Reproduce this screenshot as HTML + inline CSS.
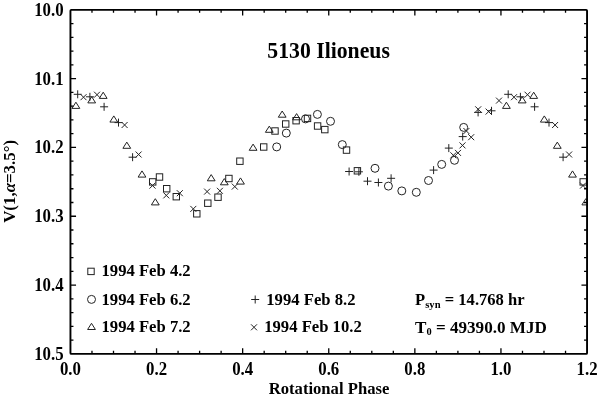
<!DOCTYPE html>
<html><head><meta charset="utf-8"><style>
html,body{margin:0;padding:0;background:#fff;}
svg{display:block;will-change:transform;}
text{font-family:"Liberation Serif",serif;font-weight:bold;fill:#000;}
</style></head><body>
<svg width="600" height="399" viewBox="0 0 600 399">
<defs><clipPath id="c"><rect x="70.45" y="9.85" width="516.6" height="344"/></clipPath></defs>
<g clip-path="url(#c)" fill="none" stroke="#222" stroke-width="1">
<path d="M75.9 102.2L79.8 108.4L72 108.4Z"/><path d="M91.7 96.7L95.6 102.9L87.8 102.9Z"/><path d="M103.2 92.2L107.1 98.4L99.3 98.4Z"/><path d="M113.8 115.9L117.7 122.1L109.9 122.1Z"/><path d="M126.8 142.1L130.7 148.3L122.9 148.3Z"/><path d="M142 170.9L145.9 177.1L138.1 177.1Z"/><path d="M155.3 198.7L159.2 204.9L151.4 204.9Z"/><path d="M211.2 174.6L215.1 180.8L207.3 180.8Z"/><path d="M224.3 178.6L228.2 184.8L220.4 184.8Z"/><path d="M240.5 177.9L244.4 184.1L236.6 184.1Z"/><path d="M253.1 144.1L257 150.3L249.2 150.3Z"/><path d="M269.3 126.1L273.2 132.3L265.4 132.3Z"/><path d="M282.2 111L286.1 117.2L278.3 117.2Z"/><path d="M296.6 113.6L300.5 119.8L292.7 119.8Z"/><path d="M506.4 102.2L510.3 108.4L502.5 108.4Z"/><path d="M522.2 96.7L526.1 102.9L518.3 102.9Z"/><path d="M533.7 92.2L537.6 98.4L529.8 98.4Z"/><path d="M544.3 115.9L548.2 122.1L540.4 122.1Z"/><path d="M557.3 142.1L561.2 148.3L553.4 148.3Z"/><path d="M572.5 170.9L576.4 177.1L568.6 177.1Z"/><path d="M585.8 198.7L589.7 204.9L581.9 204.9Z"/><rect x="149.5" y="178.7" width="6.4" height="6.4"/><rect x="156.3" y="173.8" width="6.4" height="6.4"/><rect x="163.5" y="185.5" width="6.4" height="6.4"/><rect x="173.1" y="193.5" width="6.4" height="6.4"/><rect x="193.6" y="210.6" width="6.4" height="6.4"/><rect x="204.6" y="200" width="6.4" height="6.4"/><rect x="214.8" y="194" width="6.4" height="6.4"/><rect x="225.7" y="175.3" width="6.4" height="6.4"/><rect x="236.7" y="158" width="6.4" height="6.4"/><rect x="260.5" y="143.8" width="6.4" height="6.4"/><rect x="271.8" y="127.8" width="6.4" height="6.4"/><rect x="282.5" y="120.8" width="6.4" height="6.4"/><rect x="292.9" y="117.5" width="6.4" height="6.4"/><rect x="304.3" y="115.2" width="6.4" height="6.4"/><rect x="314.4" y="122.8" width="6.4" height="6.4"/><rect x="321.6" y="126.4" width="6.4" height="6.4"/><rect x="343.3" y="146.9" width="6.4" height="6.4"/><rect x="354.2" y="167.6" width="6.4" height="6.4"/><rect x="580" y="178.7" width="6.4" height="6.4"/><rect x="586.8" y="173.8" width="6.4" height="6.4"/><circle cx="276.7" cy="146.9" r="4.0"/><circle cx="286.3" cy="133.1" r="4.0"/><circle cx="305.5" cy="118.9" r="4.0"/><circle cx="317.4" cy="114.4" r="4.0"/><circle cx="330.5" cy="121.3" r="4.0"/><circle cx="342.3" cy="144.6" r="4.0"/><circle cx="375" cy="168.3" r="4.0"/><circle cx="388.4" cy="186.1" r="4.0"/><circle cx="401.8" cy="190.9" r="4.0"/><circle cx="416.3" cy="192.3" r="4.0"/><circle cx="428.5" cy="180.5" r="4.0"/><circle cx="441.7" cy="164.4" r="4.0"/><circle cx="454.5" cy="160.3" r="4.0"/><circle cx="463.7" cy="127.4" r="4.0"/><path d="M73.7 94.3H81.7M77.7 90.3V98.3"/><path d="M85.9 96.8H93.9M89.9 92.8V100.8"/><path d="M100.1 106.8H108.1M104.1 102.8V110.8"/><path d="M114.5 122.6H122.5M118.5 118.6V126.6"/><path d="M128.6 157.2H136.6M132.6 153.2V161.2"/><path d="M345.1 171.5H353.1M349.1 167.5V175.5"/><path d="M354.9 171.8H362.9M358.9 167.8V175.8"/><path d="M363.5 181.2H371.5M367.5 177.2V185.2"/><path d="M374.4 182.5H382.4M378.4 178.5V186.5"/><path d="M387.1 178.3H395.1M391.1 174.3V182.3"/><path d="M429.6 170.1H437.6M433.6 166.1V174.1"/><path d="M444.8 148.1H452.8M448.8 144.1V152.1"/><path d="M458.7 136.6H466.7M462.7 132.6V140.6"/><path d="M474.1 112.4H482.1M478.1 108.4V116.4"/><path d="M487.5 110.8H495.5M491.5 106.8V114.8"/><path d="M504.2 94.3H512.2M508.2 90.3V98.3"/><path d="M516.4 96.8H524.4M520.4 92.8V100.8"/><path d="M530.6 106.8H538.6M534.6 102.8V110.8"/><path d="M545 122.6H553M549 118.6V126.6"/><path d="M559.1 157.2H567.1M563.1 153.2V161.2"/><path d="M80.5 94.2L86.5 100.2M86.5 94.2L80.5 100.2"/><path d="M94 91.7L100 97.7M100 91.7L94 97.7"/><path d="M121.6 122L127.6 128M127.6 122L121.6 128"/><path d="M135.6 151.5L141.6 157.5M141.6 151.5L135.6 157.5"/><path d="M149.5 182.6L155.5 188.6M155.5 182.6L149.5 188.6"/><path d="M163.3 192.4L169.3 198.4M169.3 192.4L163.3 198.4"/><path d="M176.8 190.2L182.8 196.2M182.8 190.2L176.8 196.2"/><path d="M190.3 205.9L196.3 211.9M196.3 205.9L190.3 211.9"/><path d="M204.1 188.6L210.1 194.6M210.1 188.6L204.1 194.6"/><path d="M216.9 187.8L222.9 193.8M222.9 187.8L216.9 193.8"/><path d="M231.8 183.6L237.8 189.6M237.8 183.6L231.8 189.6"/><path d="M450.4 152.3L456.4 158.3M456.4 152.3L450.4 158.3"/><path d="M455 149.9L461 155.9M461 149.9L455 155.9"/><path d="M459.5 142.4L465.5 148.4M465.5 142.4L459.5 148.4"/><path d="M463.4 128L469.4 134M469.4 128L463.4 134"/><path d="M468.2 134.2L474.2 140.2M474.2 134.2L468.2 140.2"/><path d="M475.2 106.3L481.2 112.3M481.2 106.3L475.2 112.3"/><path d="M485.6 108.6L491.6 114.6M491.6 108.6L485.6 114.6"/><path d="M496 97.6L502 103.6M502 97.6L496 103.6"/><path d="M511 94.2L517 100.2M517 94.2L511 100.2"/><path d="M524.5 91.7L530.5 97.7M530.5 91.7L524.5 97.7"/><path d="M552.1 122L558.1 128M558.1 122L552.1 128"/><path d="M566.1 151.5L572.1 157.5M572.1 151.5L566.1 157.5"/><path d="M580 182.6L586 188.6M586 182.6L580 188.6"/>
</g>
<path d="M91.98 353.85v-3.0M91.98 9.85v3.0M113.5 353.85v-3.0M113.5 9.85v3.0M135.03 353.85v-3.0M135.03 9.85v3.0M156.55 353.85v-5.6M156.55 9.85v5.6M178.07 353.85v-3.0M178.07 9.85v3.0M199.6 353.85v-3.0M199.6 9.85v3.0M221.12 353.85v-3.0M221.12 9.85v3.0M242.65 353.85v-5.6M242.65 9.85v5.6M264.18 353.85v-3.0M264.18 9.85v3.0M285.7 353.85v-3.0M285.7 9.85v3.0M307.23 353.85v-3.0M307.23 9.85v3.0M328.75 353.85v-5.6M328.75 9.85v5.6M350.27 353.85v-3.0M350.27 9.85v3.0M371.8 353.85v-3.0M371.8 9.85v3.0M393.32 353.85v-3.0M393.32 9.85v3.0M414.85 353.85v-5.6M414.85 9.85v5.6M436.38 353.85v-3.0M436.38 9.85v3.0M457.9 353.85v-3.0M457.9 9.85v3.0M479.43 353.85v-3.0M479.43 9.85v3.0M500.95 353.85v-5.6M500.95 9.85v5.6M522.48 353.85v-3.0M522.48 9.85v3.0M544 353.85v-3.0M544 9.85v3.0M565.53 353.85v-3.0M565.53 9.85v3.0M70.45 23.61h3.0M587.05 23.61h-3.0M70.45 37.37h3.0M587.05 37.37h-3.0M70.45 51.13h3.0M587.05 51.13h-3.0M70.45 64.89h3.0M587.05 64.89h-3.0M70.45 78.65h5.6M587.05 78.65h-5.6M70.45 92.41h3.0M587.05 92.41h-3.0M70.45 106.17h3.0M587.05 106.17h-3.0M70.45 119.93h3.0M587.05 119.93h-3.0M70.45 133.69h3.0M587.05 133.69h-3.0M70.45 147.45h5.6M587.05 147.45h-5.6M70.45 161.21h3.0M587.05 161.21h-3.0M70.45 174.97h3.0M587.05 174.97h-3.0M70.45 188.73h3.0M587.05 188.73h-3.0M70.45 202.49h3.0M587.05 202.49h-3.0M70.45 216.25h5.6M587.05 216.25h-5.6M70.45 230.01h3.0M587.05 230.01h-3.0M70.45 243.77h3.0M587.05 243.77h-3.0M70.45 257.53h3.0M587.05 257.53h-3.0M70.45 271.29h3.0M587.05 271.29h-3.0M70.45 285.05h5.6M587.05 285.05h-5.6M70.45 298.81h3.0M587.05 298.81h-3.0M70.45 312.57h3.0M587.05 312.57h-3.0M70.45 326.33h3.0M587.05 326.33h-3.0M70.45 340.09h3.0M587.05 340.09h-3.0" stroke="#000" stroke-width="1.3" fill="none"/>
<rect x="70.45" y="9.85" width="516.6" height="344" rx="0.9" fill="none" stroke="#000" stroke-width="1.9" stroke-linejoin="round"/>
<text transform="translate(70.45 374.9) scale(0.935 1)" font-size="18.0" text-anchor="middle">0.0</text><text transform="translate(156.55 374.9) scale(0.935 1)" font-size="18.0" text-anchor="middle">0.2</text><text transform="translate(242.65 374.9) scale(0.935 1)" font-size="18.0" text-anchor="middle">0.4</text><text transform="translate(328.75 374.9) scale(0.935 1)" font-size="18.0" text-anchor="middle">0.6</text><text transform="translate(414.85 374.9) scale(0.935 1)" font-size="18.0" text-anchor="middle">0.8</text><text transform="translate(500.95 374.9) scale(0.935 1)" font-size="18.0" text-anchor="middle">1.0</text><text transform="translate(587.05 374.9) scale(0.935 1)" font-size="18.0" text-anchor="middle">1.2</text><text transform="translate(63.6 15.75) scale(0.935 1)" font-size="18.0" text-anchor="end">10.0</text><text transform="translate(63.6 84.55) scale(0.935 1)" font-size="18.0" text-anchor="end">10.1</text><text transform="translate(63.6 153.35) scale(0.935 1)" font-size="18.0" text-anchor="end">10.2</text><text transform="translate(63.6 222.15) scale(0.935 1)" font-size="18.0" text-anchor="end">10.3</text><text transform="translate(63.6 290.95) scale(0.935 1)" font-size="18.0" text-anchor="end">10.4</text><text transform="translate(63.6 359.75) scale(0.935 1)" font-size="18.0" text-anchor="end">10.5</text>
<text transform="translate(328.6 58) scale(0.962 1)" font-size="22.6" text-anchor="middle">5130 Ilioneus</text>
<text transform="translate(329 393.7) scale(0.962 1)" font-size="17.3" text-anchor="middle">Rotational Phase</text>
<text transform="translate(14.6 181.4) rotate(-90) scale(0.975 1)" font-size="17.3" text-anchor="middle">V(1,<tspan font-style="italic">α</tspan>=3.5°)</text>

<g fill="none" stroke="#222" stroke-width="1">
<rect x="87.8" y="268.2" width="6.4" height="6.4"/>
<circle cx="91.5" cy="299.4" r="4.0"/>
<path d="M91.5 323.3L95.4 329.5L87.6 329.5Z"/>
<path d="M251.2 299.5H259.2M255.2 295.5V303.5"/>
<path d="M251 324.3L257 330.3M257 324.3L251 330.3"/>
</g>
<text transform="translate(101.5 276.4) scale(0.962 1)" font-size="17.3">1994 Feb 4.2</text>
<text transform="translate(101.5 304.6) scale(0.962 1)" font-size="17.3">1994 Feb 6.2</text>
<text transform="translate(101.5 332.4) scale(0.962 1)" font-size="17.3">1994 Feb 7.2</text>
<text transform="translate(266.3 304.6) scale(0.962 1)" font-size="17.3">1994 Feb 8.2</text>
<text transform="translate(264.2 332.4) scale(0.962 1)" font-size="17.3">1994 Feb 10.2</text>
<text transform="translate(415.1 304.6) scale(0.958 1)" font-size="17.3">P<tspan font-size="11.1" dy="3.1">syn</tspan><tspan dy="-3.1"> = 14.768 hr</tspan></text>
<text transform="translate(415 332.6) scale(0.99 1)" font-size="17.3">T<tspan font-size="10.5" dy="2.6">0</tspan><tspan dy="-2.6"> = 49390.0 MJD</tspan></text>

</svg>
</body></html>
